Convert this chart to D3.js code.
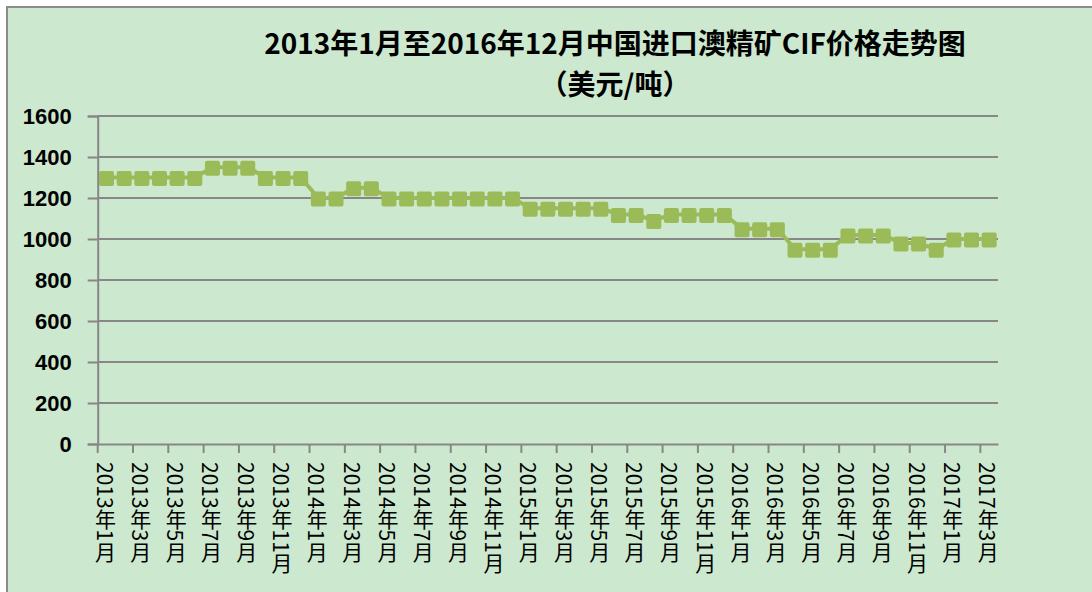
<!DOCTYPE html>
<html><head><meta charset="utf-8">
<script src="https://cdn.jsdelivr.net/npm/d3@7"></script>
<style>
html,body{margin:0;padding:0;background:#fff;}
svg{display:block;}
</style></head>
<body>
<script>
// Data: monthly CIF price (USD/t), Jan 2013 – Mar 2017
const years = [2013, 2014, 2015, 2016, 2017];
const months = [];
years.forEach(y => { for (let m = 1; m <= 12; m++) { if (y === 2017 && m > 3) break; months.push(y + "年" + m + "月"); } });
const prices = [
  1300,1300,1300,1300,1300,1300,1350,1350,1350,1300,1300,1300,
  1200,1200,1250,1250,1200,1200,1200,1200,1200,1200,1200,1200,
  1150,1150,1150,1150,1150,1120,1120,1090,1120,1120,1120,1120,
  1050,1050,1050,950,950,950,1020,1020,1020,980,980,950,
  1000,1000,1000
];
const yTicks = [0,200,400,600,800,1000,1200,1400,1600];
const titleLines = ["2013年1月至2016年12月中国进口澳精矿CIF价格走势图", "（美元/吨）"];

const W = 1092, H = 592;
const svg = d3.select("body").append("svg").attr("width", W).attr("height", H);

// background & frame
svg.append("rect").attr("x",0).attr("y",0).attr("width",W).attr("height",H).attr("fill","#ffffff");
svg.append("rect").attr("x",7).attr("y",7).attr("width",W+10).attr("height",H+10)
  .attr("fill","#cce8cf").attr("stroke","#8c8c8c").attr("stroke-width",2);

const pLeft = 97.7, pRight = 998, pTop = 116, pBottom = 444;
const x = d3.scaleBand().domain(months).range([pLeft, pRight]).paddingInner(0).paddingOuter(0);
const y = d3.scaleLinear().domain([0,1600]).range([pBottom, pTop]);
const gridColor = "#878787";

// gridlines
svg.append("g").selectAll("line").data(yTicks.filter(d => d > 0)).join("line")
  .attr("x1", pLeft).attr("x2", pRight).attr("y1", d => y(d)).attr("y2", d => y(d))
  .attr("stroke", gridColor).attr("stroke-width", 2);

// y axis
const yAxis = svg.append("g").attr("transform", `translate(${pLeft},0)`)
  .call(d3.axisLeft(y).tickValues(yTicks).tickFormat(d3.format("d")).tickSize(10).tickPadding(16));
yAxis.select(".domain").attr("stroke", gridColor).attr("stroke-width", 2);
yAxis.selectAll(".tick line").attr("stroke", gridColor).attr("stroke-width", 2);
yAxis.selectAll(".tick text").attr("fill","#000").style("font-family","'Liberation Sans', Arial, sans-serif")
  .style("font-size","22px").style("font-weight","bold").attr("dy","0.36em");

// x axis
const labelled = months.filter((d,i) => i % 2 === 0);
const xAxis = svg.append("g").attr("transform", `translate(0,${pBottom})`)
  .call(d3.axisBottom(x).tickValues(labelled).tickSize(0).tickFormat(""));
xAxis.select(".domain").attr("stroke", gridColor).attr("stroke-width", 2);
const bw = x.bandwidth();
svg.append("g").selectAll("line").data(labelled).join("line")
  .attr("x1", d => x(d)).attr("x2", d => x(d)).attr("y1", pBottom).attr("y2", pBottom + 9)
  .attr("stroke", gridColor).attr("stroke-width", 2);
svg.append("g").selectAll("text").data(labelled).join("text")
  .attr("x", d => x(d) + bw/2 - 1).attr("y", pBottom + 18)
  .style("writing-mode","vertical-rl")
  .style("font-family","'Noto Sans CJK SC', sans-serif")
  .style("font-size","21px")
  .attr("fill","#000")
  .text(d => d);

// series line
const line = d3.line().x((d,i) => x(months[i]) + bw/2).y(d => y(d));
svg.append("path").datum(prices).attr("d", line).attr("fill","none")
  .attr("stroke","#9bbb59").attr("stroke-width",4).attr("stroke-linejoin","round");
const ms = 15;
svg.append("g").selectAll("rect").data(prices).join("rect")
  .attr("x", (d,i) => x(months[i]) + bw/2 - ms/2).attr("y", d => y(d) - ms/2 + 1)
  .attr("width", ms).attr("height", ms).attr("rx", 2)
  .attr("fill","#9bbb59");

// title
svg.append("g").selectAll("text").data(titleLines).join("text")
  .attr("x", 615).attr("y", (d,i) => i === 0 ? 42 : 83)
  .attr("text-anchor","middle").attr("dominant-baseline","central")
  .style("font-family","'Noto Sans CJK SC', sans-serif")
  .style("font-size","28px").style("font-weight","bold")
  .attr("fill","#000")
  .text(d => d);
</script>
</body></html>
